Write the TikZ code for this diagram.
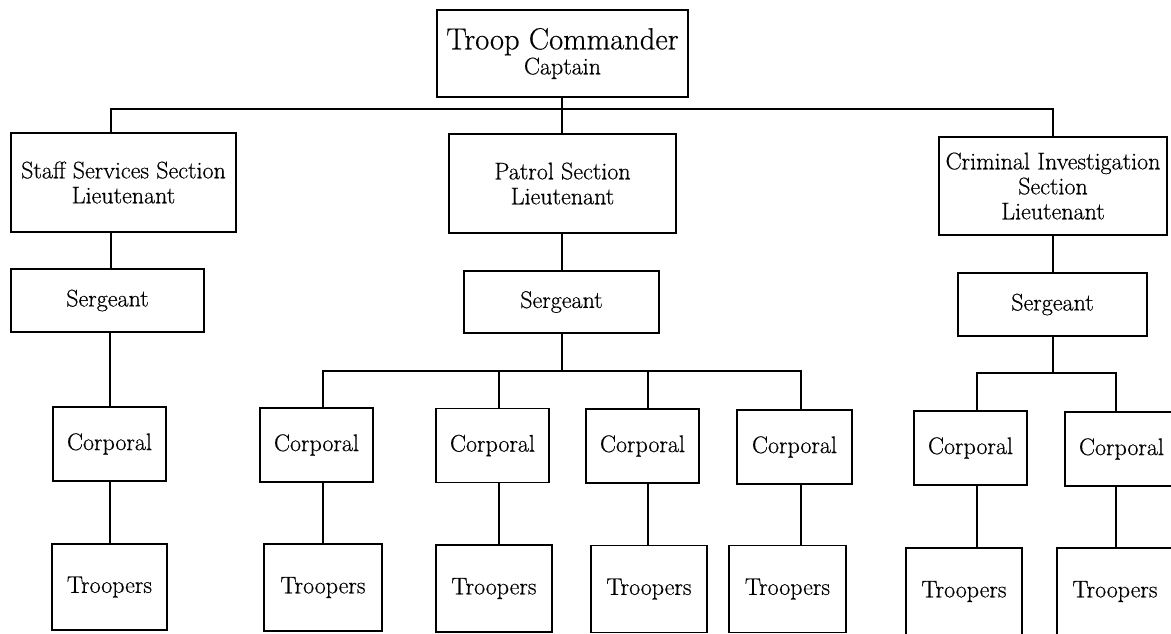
\documentclass[tikz,border=0pt]{standalone}
\usepackage{fontspec}
\setmainfont{Latin Modern Roman}[FakeBold=0.5]
\usetikzlibrary{calc}
\begin{document}
\begin{tikzpicture}[x=1pt,y=-1pt,
  line width=1.7pt,
  unit/.style 2 args={draw, line width=1.7pt, inner sep=0pt, align=center,
    minimum width=#1, minimum height=#2,
    font=\fontsize{24}{25}\selectfont},
  section/.style={unit={227pt}{99pt}},
  sgtbox/.style={unit={193pt}{63pt}},
  cplbox/.style={unit={113pt}{74pt}},
  trpbox/.style={unit={116pt}{87pt}},
  link/.style={line width=1.7pt}]
\useasboundingbox (0,0) rectangle (1171,633);
\clip (0,0) rectangle (1171,633);

% command
\node[unit={251pt}{87pt}] (cmd) at (562.5,53.5)
  {{\fontsize{30.5}{25}\selectfont Troop Commander}\\Captain};

% sections
\node[section, minimum width=225pt] (staff)  at (123.5,182.5) {Staff Services Section\\Lieutenant};
\node[section] (patrol) at (562.5,183.5) {Patrol Section\\Lieutenant};
\node[section, minimum width=228pt, minimum height=98pt] (crim) at (1053,186)
  {Criminal Investigation\\Section\\Lieutenant};

% sergeants
\node[sgtbox] (sgtA) at (107.5,300.5) {Sergeant};
\node[sgtbox, minimum width=195pt, minimum height=62pt] (sgtB) at (561.5,302) {Sergeant};
\node[sgtbox, minimum width=189pt] (sgtC) at (1052.5,304.5) {Sergeant};

% corporals
\node[cplbox] (cA)  at (109.5,444) {Corporal};
\node[cplbox] (cB1) at (316.5,445) {Corporal};
\node[cplbox] (cB2) at (492.5,445.5) {Corporal};
\node[cplbox] (cB3) at (642.5,446) {Corporal};
\node[cplbox, minimum width=115pt] (cB4) at (794.5,447) {Corporal};
\node[cplbox] (cC1) at (970.5,448) {Corporal};
\node[cplbox] (cC2) at (1121.5,449) {Corporal};

% troopers
\node[trpbox, minimum width=115pt, minimum height=86pt] (tA) at (109.5,587) {Troopers};
\node[trpbox, minimum width=118pt] (tB1) at (323,587.5) {Troopers};
\node[trpbox] (tB2) at (494,588.5) {Troopers};
\node[trpbox] (tB3) at (649,589) {Troopers};
\node[trpbox, minimum width=117pt] (tB4) at (787.5,589) {Troopers};
\node[trpbox] (tC1) at (964,591.5) {Troopers};
\node[trpbox] (tC2) at (1115,591.5) {Troopers};

% drop points on the buses
\coordinate (bA) at (111,109);
\coordinate (bB) at (562,109);
\coordinate (bC) at (1053,109);
\coordinate (pA) at (323,371);
\coordinate (pB) at (499,371);
\coordinate (pC) at (648,371);
\coordinate (pD) at (801,371);
\coordinate (qA) at (977,373);
\coordinate (qB) at (1116,373);
\coordinate (sA) at (110,0);

% top bus
\draw[link] (bB |- cmd.south) -- (bB);
\draw[link] (bA |- staff.north) -- (bA) -- (bC) -- (bC |- crim.north);
\draw[link] (bB) -- (bB |- patrol.north);

% staff services chain
\draw[link] (bA |- staff.south) -- (bA |- sgtA.north);
\draw[link] (sA |- sgtA.south) -- (sA |- cA.north);
\draw[link] (sA |- cA.south) -- (sA |- tA.north);

% patrol chain
\draw[link] (bB |- patrol.south) -- (bB |- sgtB.north);
\draw[link] (bB |- sgtB.south) -- (bB |- pA);
\draw[link] (pA |- cB1.north) -- (pA) -- (pD) -- (pD |- cB4.north);
\draw[link] (pB) -- (pB |- cB2.north);
\draw[link] (pC) -- (pC |- cB3.north);
\draw[link] (pA |- cB1.south) -- (pA |- tB1.north);
\draw[link] (pB |- cB2.south) -- (pB |- tB2.north);
\draw[link] (pC |- cB3.south) -- (pC |- tB3.north);
\draw[link] (pD |- cB4.south) -- (pD |- tB4.north);

% criminal investigation chain
\draw[link] (bC |- crim.south) -- (bC |- sgtC.north);
\draw[link] (bC |- sgtC.south) -- (bC |- qA);
\draw[link] (qA |- cC1.north) -- (qA) -- (qB) -- (qB |- cC2.north);
\draw[link] (qA |- cC1.south) -- (qA |- tC1.north);
\draw[link] (qB |- cC2.south) -- (qB |- tC2.north);
\end{tikzpicture}
\end{document}
